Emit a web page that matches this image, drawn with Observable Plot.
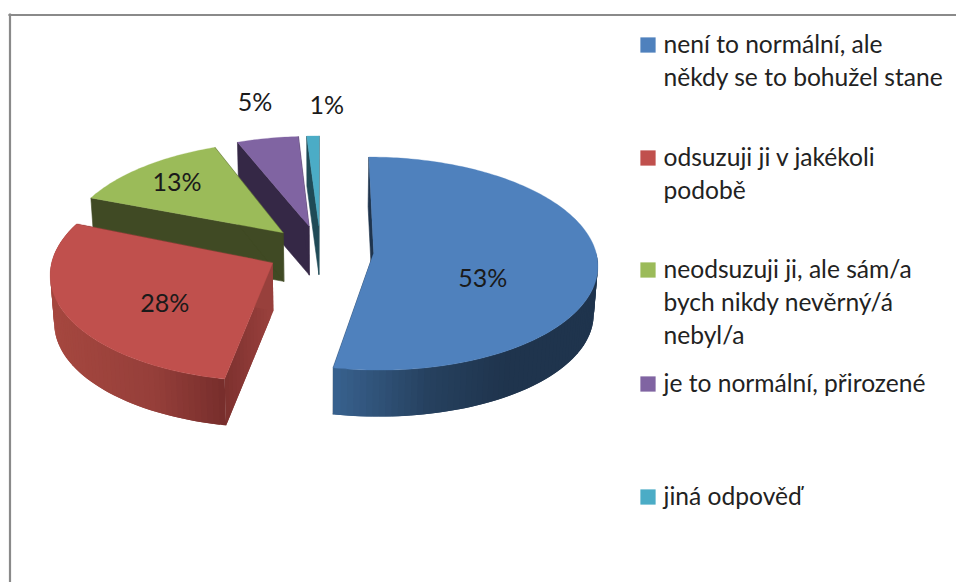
<!DOCTYPE html>
<html><head><meta charset="utf-8">
<script src="https://cdn.jsdelivr.net/npm/d3@7"></script>
<script src="https://cdn.jsdelivr.net/npm/@observablehq/plot@0.6"></script>
<style>html,body{margin:0;padding:0;background:#fff}svg{display:block}</style>
</head><body><div id="chart"></div>
<script>
const categories = ["není to normální, ale\nněkdy se to bohužel stane","odsuzuji ji v jakékoli\npodobě","neodsuzuji ji, ale sám/a\nbych nikdy nevěrný/á\nnebyl/a","je to normální, přirozené","jiná odpověď"];
const values = [53,28,13,5,1];
const labels = ["53%","28%","13%","5%","1%"];
const explosion = [0.24,0.225,0.225,0.225,0.225];
const topColors = ["#4f81bd","#c0504d","#9bbb59","#8064a2","#4bacc6"];
const cutColors = ["#1f344d","#8f3d39","#404a24","#352846","#1f4a56"];

const W=956,H=582,font="Lato, 'Open Sans', sans-serif";
const k=0.1, depth=0.46, shrink=0.985, apexPush=[1,1.08,1.08,1.08,1.08];
const rad=d=>d*Math.PI/180;
function project(X,Y,bottom){
  const s=1/(1-k*Y)*(bottom?shrink:1);
  return {x:X*s,y:Y*s+(bottom?depth:0)};
}
let acc=0;
const slices=values.map((v,i)=>{
  const a0=acc/100*360; acc+=v; const a1=acc/100*360; const m=(a0+a1)/2;
  return {i,a0,a1,ox:Math.sin(rad(m))*explosion[i],oy:-Math.cos(rad(m))*explosion[i]};
});
const pt=(s,a,r,b)=>{
  // r=0 is the apex, pushed slightly outward from the pie centre; r=1 is the rim
  const f=apexPush[s.i]+(1-apexPush[s.i])*r;
  return project(s.ox*f+r*Math.sin(rad(a)),s.oy*f-r*Math.cos(rad(a)),b);
};
const poly=(pts,c,sw=0.6)=>Plot.line(pts,{x:"x",y:"y",fill:c,stroke:sw?c:"none",strokeWidth:sw,curve:"linear-closed"});
const blueWall=d3.scaleLinear().domain([0.08,0.5,0.85]).range(["#38618e","#26415f","#1f344d"]).clamp(true);
const redWall=d3.scaleLinear().domain([-1.2,-0.75,-0.43]).range(["#a5473f","#963f3a","#782e2c"]).clamp(true);
const redCut=d3.scaleLinear().domain([-0.43,-0.2]).range(["#7a2f2d","#9a413d"]).clamp(true);

const marks=[];
// back to front
for(const s of [...slices].reverse().filter(s=>s.i!==0).concat([slices[0]])){
  const c=topColors[s.i];
  // cut faces
  for(const a of [s.a0,s.a1]){
    if(s.i===1){
      for(let j=13;j>=0;j--){
        const r0=j/14,r1=Math.min(1,(j+2)/14);
        const p=[pt(s,a,r0,false),pt(s,a,r1,false),pt(s,a,r1,true),pt(s,a,r0,true)];
        marks.push(poly(p,redCut(p[0].x),0));
      }
    } else {
      marks.push(poly([pt(s,a,0,false),pt(s,a,1,false),pt(s,a,1,true),pt(s,a,0,true)],cutColors[s.i]));
    }
  }
  // outer wall (front half only): overlapping strips give a smooth shade
  if(s.i<2){
    const step=1.5;
    const from=Math.max(s.a0,90), to=Math.min(s.a1,292);
    for(let a=from;a<to;a+=step){
      const b=Math.min(a+2*step,to);
      const p=[pt(s,a,1,false),pt(s,b,1,false),pt(s,b,1,true),pt(s,a,1,true)];
      marks.push(poly(p,(s.i===0?blueWall:redWall)(p[0].x),0));
    }
  }
  // top face
  const top=[pt(s,s.a0,0,false)];
  for(let a=s.a0;a<s.a1;a+=1) top.push(pt(s,a,1,false));
  top.push(pt(s,s.a1,1,false));
  marks.push(poly(top,c,0.3));
}
// data labels, anchored on each slice's apex
const labelOffsets=[[109,26],[-108,41],[-106,-50],[-54,-123],[8,-120]];
slices.forEach(s=>{
  const p=pt(s,0,0,false);
  marks.push(Plot.text([labels[s.i]],{x:()=>p.x,y:()=>p.y,text:d=>d,dx:labelOffsets[s.i][0],dy:labelOffsets[s.i][1],fontSize:25,fontFamily:font,fill:"#1a1a1a"}));
});
// legend
const legendTop=[29,142,254,368,481];
categories.forEach((t,i)=>{
  marks.push(Plot.dot([t],{frameAnchor:"top-left",dx:647.5,dy:legendTop[i]+15.5,r:8.6,symbol:"square",fill:topColors[i]}));
  marks.push(Plot.text([t],{text:d=>d,frameAnchor:"top-left",dx:663,dy:legendTop[i],textAnchor:"start",lineAnchor:"top",fontSize:24.6,lineHeight:33/24.6,fontFamily:font,fill:"#222"}));
});
// chart-area frame: top and left lines only
marks.push(Plot.frame({anchor:"top",insetTop:14.5,insetLeft:9,stroke:"#8a8a8a",strokeWidth:2.2}));
marks.push(Plot.frame({anchor:"left",insetLeft:9.5,insetTop:14,stroke:"#8a8a8a",strokeWidth:2.2}));

const chart=Plot.plot({
  width:W,height:H,margin:0,
  x:{domain:[-1,1],range:[98,542],axis:null},
  y:{domain:[-1,1],range:[145,355],axis:null},
  style:{background:"#fff"},
  marks
});
document.getElementById("chart").append(chart);
</script></body></html>
